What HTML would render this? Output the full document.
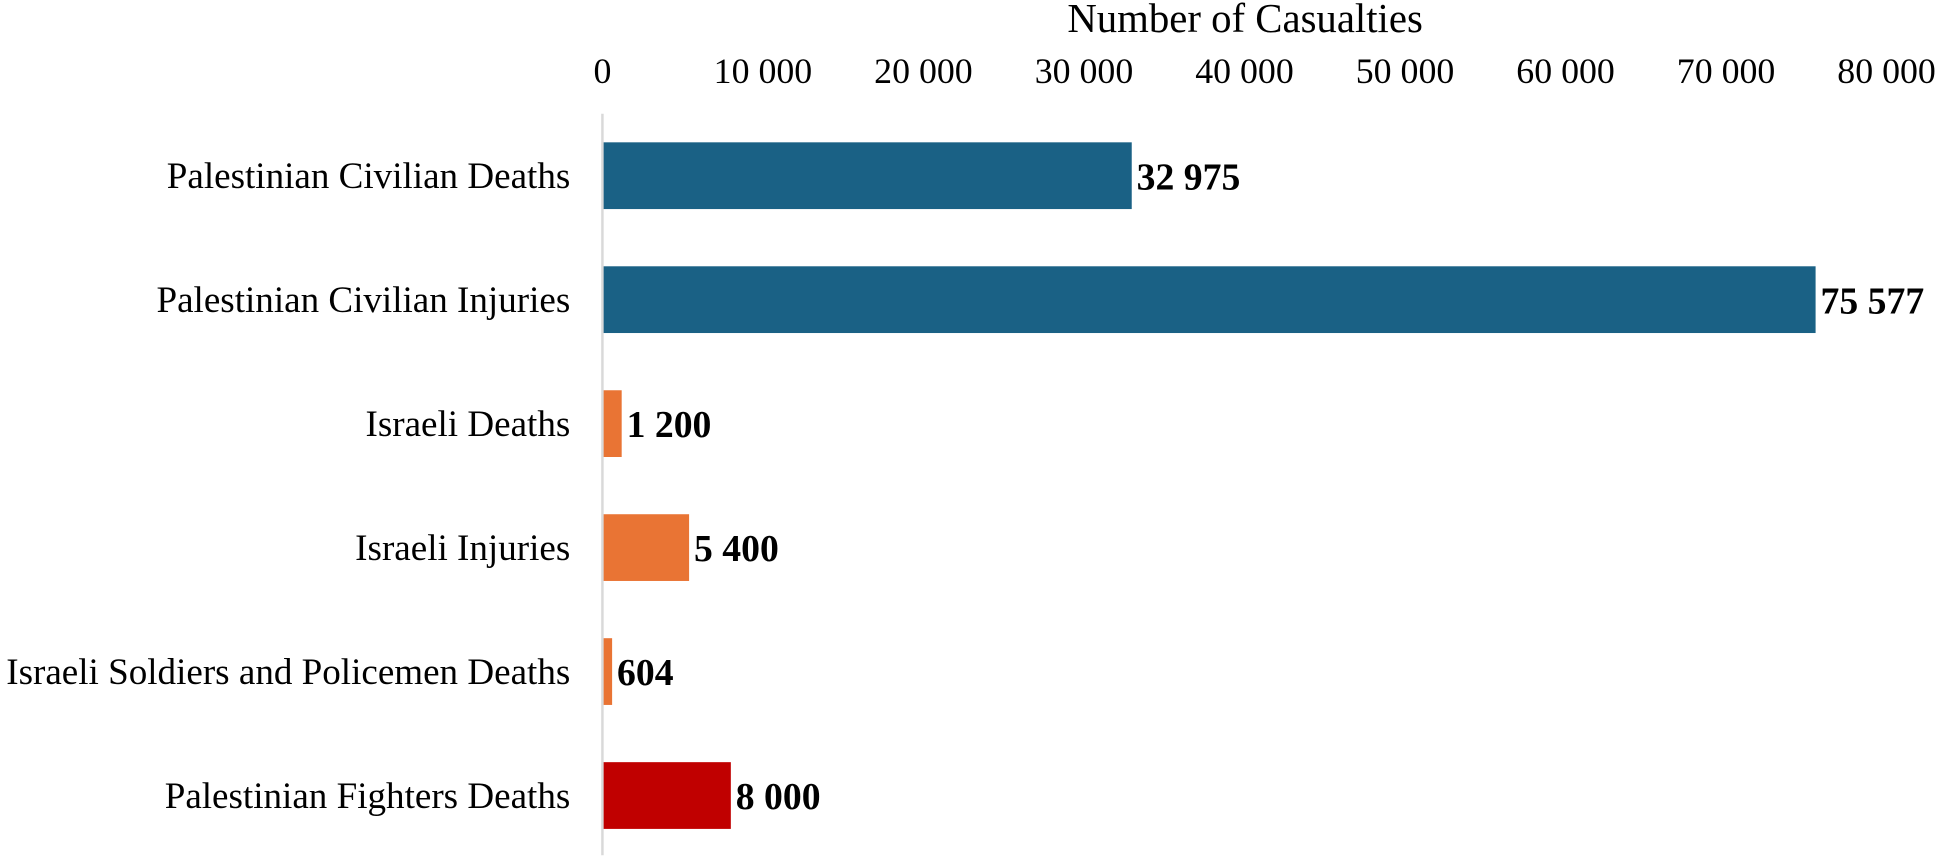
<!DOCTYPE html>
<html><head><meta charset="utf-8"><style>
html,body{margin:0;padding:0;background:#fff;width:1939px;height:859px;overflow:hidden}
svg{display:block}
text{font-family:"Liberation Serif","Times New Roman",serif;fill:#000}
</style></head><body>
<svg id="chart" width="1939" height="859" viewBox="0 0 1568 695" xmlns="http://www.w3.org/2000/svg">
<text x="1007" y="26" font-size="33" text-anchor="middle">Number of Casualties</text>
<g id="ticks"></g><g id="bars"></g>
<line x1="487" y1="92" x2="487" y2="692" stroke="#d9d9d9" stroke-width="2"/>
</svg>
<script>
const categories = ["Palestinian Civilian Deaths","Palestinian Civilian Injuries","Israeli Deaths","Israeli Injuries","Israeli Soldiers and Policemen Deaths","Palestinian Fighters Deaths"];
const values = [32975, 75577, 1200, 5400, 604, 8000];
const valueLabels = ["32 975","75 577","1 200","5 400","604","8 000"];
const barColors = ["#1a6185","#1a6185","#e97434","#e97434","#e97434","#c00000"];
const tickValues = [0,10000,20000,30000,40000,50000,60000,70000,80000];
const tickLabels = ["0","10 000","20 000","30 000","40 000","50 000","60 000","70 000","80 000"];
const NS="http://www.w3.org/2000/svg";
const x0=487, x1=1526, xmax=80000;
const xs=v=>x0+(x1-x0)*v/xmax;
const rowTop=92, rowH=100.3;
const yc=i=>rowTop+rowH*(i+0.5);
const ticks=document.getElementById('ticks'), bars=document.getElementById('bars');
tickValues.forEach((t,i)=>{
  const el=document.createElementNS(NS,'text');
  
  
  el.setAttribute('x',xs(t));el.setAttribute('y',67);el.setAttribute('font-size','29');el.setAttribute('text-anchor','middle');
  el.textContent=tickLabels[i];ticks.appendChild(el);
});
categories.forEach((c,i)=>{
  const y=yc(i);
  const lab=document.createElementNS(NS,'text');
  
  
  lab.setAttribute('x',461);lab.setAttribute('y',y+10);lab.setAttribute('font-size','30');lab.setAttribute('text-anchor','end');
  lab.textContent=c;bars.appendChild(lab);
  const r=document.createElementNS(NS,'rect');
  
  
  r.setAttribute('x',x0);r.setAttribute('y',y-27);r.setAttribute('height',54);
  r.setAttribute('width',xs(values[i])-x0);r.setAttribute('fill',barColors[i]);bars.appendChild(r);
  const v=document.createElementNS(NS,'text');
  
  
  v.setAttribute('x',xs(values[i])+4);v.setAttribute('y',y+11);v.setAttribute('font-size','30.5');v.setAttribute('font-weight','bold');
  v.textContent=valueLabels[i];bars.appendChild(v);
});
</script>
</body></html>
